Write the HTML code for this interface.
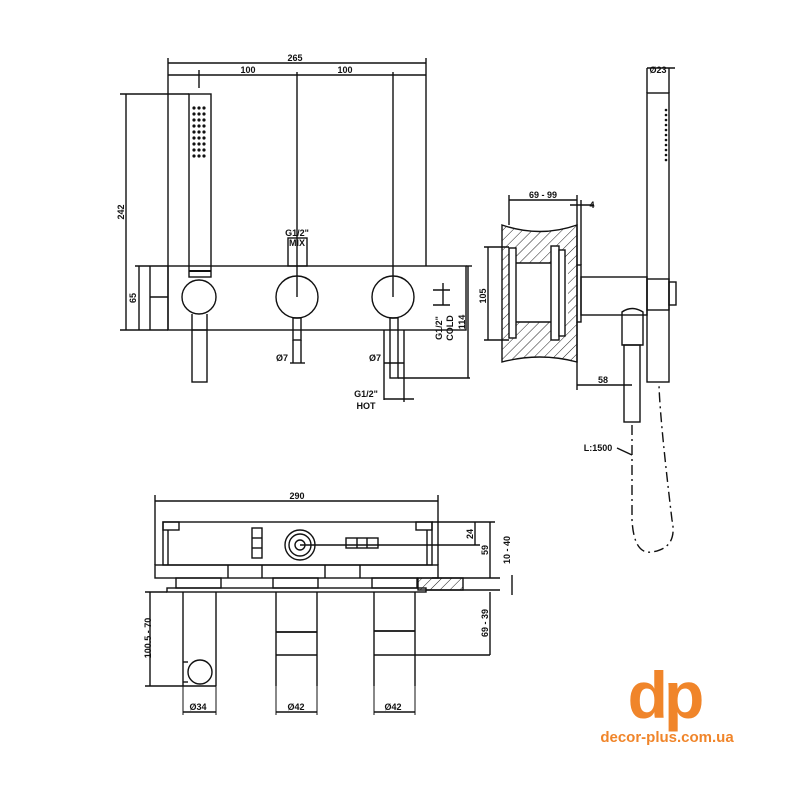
<!DOCTYPE html>
<html><head><meta charset="utf-8"><style>html,body{margin:0;padding:0;background:#fff}svg{display:block}</style></head>
<body>
<svg width="800" height="800" viewBox="0 0 800 800" xmlns="http://www.w3.org/2000/svg" font-family="Liberation Sans, sans-serif" font-weight="bold">
<defs>
<pattern id="h" width="7" height="7" patternUnits="userSpaceOnUse" patternTransform="rotate(45)"><line x1="0" y1="0" x2="0" y2="7" stroke="#222" stroke-width="1"/></pattern>
</defs>
<g fill="none" stroke="#111" stroke-width="1.4">
<!-- FRONT VIEW -->
<line x1="168" y1="58" x2="168" y2="330"/><line x1="426" y1="58" x2="426" y2="266"/>
<line x1="168" y1="63" x2="426" y2="63"/>
<line x1="168" y1="75" x2="426" y2="75"/>
<line x1="199" y1="70" x2="199" y2="88"/>
<line x1="297" y1="72" x2="297" y2="297"/><line x1="393" y1="72" x2="393" y2="297"/>
<rect x="168" y="266" width="298" height="64"/>
<rect x="189" y="94" width="22" height="183"/>
<line x1="189" y1="271" x2="211" y2="271" stroke-width="2"/>
<circle cx="199" cy="297" r="17" fill="#fff"/>
<circle cx="297" cy="297" r="21"/><circle cx="393" cy="297" r="21"/>
<rect x="192" y="330" width="15" height="52"/>
<line x1="192" y1="314" x2="192" y2="330"/><line x1="207" y1="314" x2="207" y2="330"/>
<rect x="293" y="318" width="8" height="22"/>
<line x1="293" y1="340" x2="293" y2="363"/><line x1="301" y1="340" x2="301" y2="363"/>
<line x1="290" y1="363" x2="305" y2="363"/>
<rect x="288" y="238" width="19" height="28"/>
<rect x="390" y="318" width="8" height="60"/>
<line x1="384" y1="330" x2="384" y2="400"/><line x1="404" y1="330" x2="404" y2="402"/>
<line x1="384" y1="363" x2="404" y2="363"/><line x1="384" y1="399" x2="414" y2="399"/>
<line x1="398" y1="378" x2="470" y2="378"/>
<line x1="468" y1="266" x2="468" y2="378"/><line x1="466" y1="266" x2="472" y2="266"/>
<line x1="443" y1="283" x2="443" y2="305"/><line x1="433" y1="290" x2="450" y2="290"/><line x1="433" y1="305" x2="450" y2="305"/>
<line x1="120" y1="94" x2="189" y2="94"/><line x1="126" y1="94" x2="126" y2="330"/>
<line x1="120" y1="330" x2="168" y2="330"/>
<line x1="135" y1="266" x2="168" y2="266"/>
<line x1="139" y1="266" x2="139" y2="330"/><line x1="150" y1="266" x2="150" y2="330"/>
<line x1="150" y1="297" x2="168" y2="297"/>
<!-- SIDE VIEW -->
<line x1="647" y1="68" x2="675" y2="68"/><line x1="647" y1="68" x2="647" y2="93"/><line x1="669" y1="68" x2="669" y2="93"/>
<rect x="647" y="93" width="22" height="289"/>
<path d="M502 225 Q540 238 577 225 L577 362 Q540 352 502 362 Z" fill="url(#h)"/>
<rect x="516" y="263" width="52" height="59" fill="#fff" stroke="none"/>
<rect x="509" y="248" width="7" height="90" fill="#fff"/>
<rect x="551" y="246" width="8" height="94" fill="#fff"/><rect x="559" y="250" width="6" height="86" fill="#fff"/>
<line x1="516" y1="263" x2="551" y2="263"/><line x1="516" y1="322" x2="551" y2="322"/>
<line x1="509" y1="200" x2="577" y2="200"/><line x1="509" y1="195" x2="509" y2="225"/><line x1="577" y1="195" x2="577" y2="265"/>
<line x1="570" y1="205" x2="594" y2="205"/><line x1="581" y1="200" x2="581" y2="265"/>
<line x1="484" y1="247" x2="509" y2="247"/><line x1="484" y1="340" x2="509" y2="340"/><line x1="488" y1="247" x2="488" y2="340"/>
<rect x="577" y="265" width="4" height="57"/>
<rect x="581" y="277" width="66" height="38"/>
<rect x="647" y="279" width="22" height="31"/><rect x="669" y="282" width="7" height="23"/>
<path d="M622 312 Q632 305 643 312 L643 345 L622 345 Z"/>
<rect x="624" y="345" width="16" height="77"/>
<line x1="577" y1="322" x2="577" y2="390"/><line x1="577" y1="385" x2="632" y2="385"/>
<path d="M632 425 L632 520 Q634 555 652 552 Q678 548 672 520 Q660 420 659 385" stroke-dasharray="10,4,2,4"/>
<line x1="617" y1="448" x2="632" y2="455"/>
<!-- TOP VIEW -->
<line x1="155" y1="501" x2="438" y2="501"/><line x1="155" y1="495" x2="155" y2="565"/><line x1="438" y1="495" x2="438" y2="565"/>
<rect x="163" y="522" width="269" height="43"/>
<rect x="163" y="522" width="16" height="8"/><rect x="416" y="522" width="16" height="8"/>
<line x1="168" y1="530" x2="168" y2="565"/><line x1="427" y1="530" x2="427" y2="565"/>
<rect x="155" y="565" width="283" height="13"/>
<line x1="228" y1="565" x2="228" y2="578"/><line x1="262" y1="565" x2="262" y2="578"/><line x1="325" y1="565" x2="325" y2="578"/><line x1="360" y1="565" x2="360" y2="578"/>
<rect x="176" y="578" width="45" height="10"/><rect x="273" y="578" width="45" height="10"/><rect x="372" y="578" width="45" height="10"/>
<rect x="167" y="588" width="259" height="4"/>
<rect x="418" y="578" width="45" height="12" fill="url(#h)"/>
<line x1="432" y1="578" x2="500" y2="578"/><line x1="426" y1="590" x2="500" y2="590"/>
<circle cx="300" cy="545" r="15"/><circle cx="300" cy="545" r="11"/><circle cx="300" cy="545" r="5"/>
<line x1="300" y1="545" x2="480" y2="545"/>
<rect x="252" y="528" width="10" height="30"/><line x1="252" y1="538" x2="262" y2="538"/><line x1="252" y1="548" x2="262" y2="548"/>
<rect x="346" y="538" width="32" height="10"/><line x1="357" y1="538" x2="357" y2="548"/><line x1="367" y1="538" x2="367" y2="548"/>
<line x1="183" y1="592" x2="183" y2="686"/><line x1="216" y1="592" x2="216" y2="686"/>
<circle cx="200" cy="672" r="12" fill="#fff"/><line x1="183" y1="662" x2="188" y2="662"/><line x1="183" y1="682" x2="188" y2="682"/>
<line x1="276" y1="592" x2="276" y2="686"/><line x1="317" y1="592" x2="317" y2="686"/>
<line x1="276" y1="632" x2="317" y2="632" stroke-width="1.8"/><line x1="276" y1="655" x2="317" y2="655"/>
<line x1="374" y1="592" x2="374" y2="686"/><line x1="415" y1="592" x2="415" y2="686"/>
<line x1="374" y1="631" x2="415" y2="631" stroke-width="1.8"/><line x1="374" y1="655" x2="490" y2="655"/>
<g stroke-width="1"><line x1="183" y1="686" x2="183" y2="715"/><line x1="216" y1="686" x2="216" y2="715"/><line x1="276" y1="686" x2="276" y2="715"/><line x1="317" y1="686" x2="317" y2="715"/><line x1="374" y1="686" x2="374" y2="715"/><line x1="415" y1="686" x2="415" y2="715"/></g>
<line x1="183" y1="712" x2="216" y2="712"/><line x1="276" y1="712" x2="317" y2="712"/><line x1="374" y1="712" x2="415" y2="712"/>
<line x1="145" y1="592" x2="167" y2="592"/><line x1="145" y1="686" x2="216" y2="686"/><line x1="150" y1="592" x2="150" y2="686"/>
<line x1="432" y1="522" x2="495" y2="522"/>
<line x1="475" y1="522" x2="475" y2="545"/><line x1="490" y1="522" x2="490" y2="578"/>
<line x1="490" y1="592" x2="490" y2="655"/><line x1="512" y1="575" x2="512" y2="595"/>
</g>
<g fill="#111">
<circle cx="194" cy="108" r="1.6"/><circle cx="199" cy="108" r="1.6"/><circle cx="204" cy="108" r="1.6"/>
<circle cx="194" cy="114" r="1.6"/><circle cx="199" cy="114" r="1.6"/><circle cx="204" cy="114" r="1.6"/>
<circle cx="194" cy="120" r="1.6"/><circle cx="199" cy="120" r="1.6"/><circle cx="204" cy="120" r="1.6"/>
<circle cx="194" cy="126" r="1.6"/><circle cx="199" cy="126" r="1.6"/><circle cx="204" cy="126" r="1.6"/>
<circle cx="194" cy="132" r="1.6"/><circle cx="199" cy="132" r="1.6"/><circle cx="204" cy="132" r="1.6"/>
<circle cx="194" cy="138" r="1.6"/><circle cx="199" cy="138" r="1.6"/><circle cx="204" cy="138" r="1.6"/>
<circle cx="194" cy="144" r="1.6"/><circle cx="199" cy="144" r="1.6"/><circle cx="204" cy="144" r="1.6"/>
<circle cx="194" cy="150" r="1.6"/><circle cx="199" cy="150" r="1.6"/><circle cx="204" cy="150" r="1.6"/>
<circle cx="194" cy="156" r="1.6"/><circle cx="199" cy="156" r="1.6"/><circle cx="204" cy="156" r="1.6"/>
<circle cx="666" cy="110" r="1.3"/><circle cx="666" cy="115" r="1.3"/><circle cx="666" cy="120" r="1.3"/><circle cx="666" cy="125" r="1.3"/><circle cx="666" cy="130" r="1.3"/><circle cx="666" cy="135" r="1.3"/><circle cx="666" cy="140" r="1.3"/><circle cx="666" cy="145" r="1.3"/><circle cx="666" cy="150" r="1.3"/><circle cx="666" cy="155" r="1.3"/><circle cx="666" cy="160" r="1.3"/>
</g>
<g font-size="9" fill="#111" text-anchor="middle">
<text x="295" y="61">265</text>
<text x="248" y="73">100</text><text x="345" y="73">100</text>
<text x="297" y="236">G1/2"</text><text x="297" y="246">MIX</text>
<text x="282" y="361">Ø7</text><text x="375" y="361">Ø7</text>
<text x="366" y="397">G1/2"</text><text x="366" y="409">HOT</text>
<text transform="translate(124,212) rotate(-90)">242</text>
<text transform="translate(136,298) rotate(-90)">65</text>
<text transform="translate(442,328) rotate(-90)">G1/2"</text>
<text transform="translate(453,328) rotate(-90)">COLD</text>
<text transform="translate(465,322) rotate(-90)">114</text>
<text x="658" y="73">Ø23</text>
<text x="543" y="198">69 - 99</text>
<text x="592" y="208">4</text>
<text transform="translate(486,296) rotate(-90)">105</text>
<text x="603" y="383">58</text>
<text x="598" y="451">L:1500</text>
<text x="297" y="499">290</text>
<text x="198" y="710">Ø34</text><text x="296" y="710">Ø42</text><text x="393" y="710">Ø42</text>
<text transform="translate(151,638) rotate(-90)">100.5 - 70</text>
<text transform="translate(473,534) rotate(-90)">24</text>
<text transform="translate(488,550) rotate(-90)">59</text>
<text transform="translate(510,550) rotate(-90)">10 - 40</text>
<text transform="translate(488,623) rotate(-90)">69 - 39</text>
</g>
<g fill="#f0852a">
<text x="664" y="718" font-size="66" text-anchor="middle" font-weight="bold" letter-spacing="-4">dp</text>
<text x="667" y="742" font-size="15" text-anchor="middle" font-weight="bold">decor-plus.com.ua</text>
</g>
</svg>
</body></html>
